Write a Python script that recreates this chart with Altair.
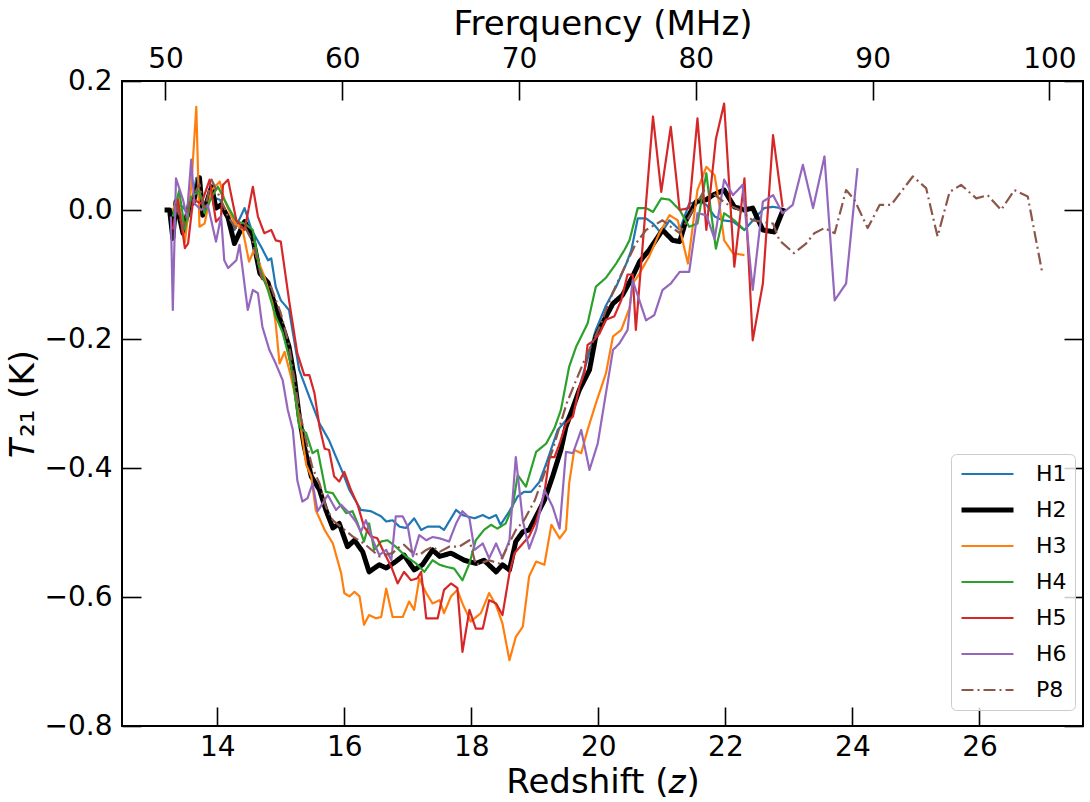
import altair as alt
import pandas as pd

SERIES = ["H1", "H2", "H3", "H4", "H5", "H6", "P8"]
COLORS = ["#1f77b4", "#000000", "#ff7f0e", "#2ca02c", "#d62728", "#9467bd", "#8c564b"]
WIDTHS = [2.2, 5.0, 2.2, 2.2, 2.2, 2.2, 2.2]
DASHES = [[1, 0], [1, 0], [1, 0], [1, 0], [1, 0], [1, 0], [12, 4, 2, 4]]

Z_TICKS = [14, 16, 18, 20, 22, 24, 26]
F_TICKS = [50, 60, 70, 80, 90, 100]
T_TICKS = [-0.8, -0.6, -0.4, -0.2, 0.0, 0.2]

z_h1 = [13.25, 13.30, 13.35, 13.46, 13.56, 13.67, 13.77, 13.91, 14.04, 14.27, 14.43, 14.54, 14.69, 14.80,
        14.85, 14.92, 15.00, 15.13, 15.29, 15.45, 15.61, 15.76, 15.87, 15.97, 16.08, 16.26, 16.42, 16.58,
        16.66, 16.76, 16.87, 16.97, 17.10, 17.21, 17.31, 17.50, 17.57, 17.76, 17.86, 18.05, 18.18, 18.28,
        18.39, 18.46, 18.60, 18.73, 18.83, 18.94, 19.07, 19.18, 19.36, 19.49, 19.62, 19.75, 19.96, 20.12,
        20.28, 20.44, 20.52, 20.62, 20.75, 20.86, 20.99, 21.12, 21.28, 21.43, 21.59, 21.70, 21.83, 21.96,
        22.12, 22.30, 22.46, 22.61, 22.75, 22.87]
t_h1 = [0.0, -0.02, 0.01, 0.005, -0.01, 0.05, 0.0, 0.02, 0.016, -0.031, 0.003, -0.031, -0.057, -0.078,
        -0.075, -0.119, -0.14, -0.155, -0.248, -0.29, -0.331, -0.357, -0.383, -0.406, -0.434, -0.465, -0.467, -0.475,
        -0.483, -0.481, -0.491, -0.493, -0.478, -0.496, -0.491, -0.491, -0.496, -0.465, -0.473, -0.478, -0.473, -0.478,
        -0.473, -0.488, -0.467, -0.444, -0.437, -0.437, -0.422, -0.393, -0.341, -0.326, -0.30, -0.258, -0.186, -0.148,
        -0.119, -0.083, -0.062, -0.013, -0.013, -0.021, -0.036, -0.016, -0.031, 0.01, 0.013, 0.008, -0.01, -0.016,
        -0.018, -0.031, -0.013, 0.003, 0.005, 0.003]

z_h2 = [13.17, 13.25, 13.30, 13.35, 13.46, 13.56, 13.62, 13.72, 13.77, 13.91, 13.98, 14.06, 14.17, 14.27,
        14.43, 14.56, 14.67, 14.80, 14.90, 15.03, 15.13, 15.21, 15.29, 15.37, 15.48, 15.61, 15.71, 15.82,
        15.92, 16.05, 16.16, 16.29, 16.39, 16.55, 16.66, 16.81, 16.94, 17.10, 17.23, 17.39, 17.50, 17.68,
        17.89, 18.07, 18.20, 18.39, 18.49, 18.60, 18.70, 18.81, 18.91, 19.02, 19.15, 19.28, 19.41, 19.49,
        19.70, 19.86, 19.96, 20.12, 20.23, 20.38, 20.54, 20.65, 20.80, 21.01, 21.17, 21.28, 21.38, 21.54,
        21.70, 21.80, 21.98, 22.14, 22.30, 22.43, 22.59, 22.77, 22.92]
t_h2 = [0.0, 0.0, -0.044, 0.013, -0.036, 0.008, 0.011, 0.05, -0.008, 0.036, 0.003, 0.008, -0.012, -0.052,
        -0.018, -0.044, -0.098, -0.113, -0.145, -0.181, -0.212, -0.258, -0.32, -0.367, -0.413, -0.434, -0.465, -0.493,
        -0.486, -0.522, -0.512, -0.53, -0.561, -0.55, -0.555, -0.545, -0.535, -0.558, -0.55, -0.527, -0.537, -0.532,
        -0.543, -0.548, -0.543, -0.561, -0.55, -0.558, -0.514, -0.499, -0.496, -0.475, -0.45, -0.413, -0.372, -0.336,
        -0.279, -0.248, -0.196, -0.165, -0.145, -0.132, -0.103, -0.08, -0.062, -0.031, -0.047, -0.049, -0.016, 0.013,
        0.016, 0.023, 0.031, 0.005, 0.0, 0.003, -0.031, -0.034, 0.003]

z_h3 = [13.30, 13.38, 13.49, 13.59, 13.67, 13.72, 13.80, 13.91, 14.04, 14.11, 14.27, 14.40, 14.50, 14.58,
        14.74, 14.87, 14.92, 14.98, 15.06, 15.16, 15.24, 15.29, 15.40, 15.48, 15.55, 15.69, 15.82, 15.95,
        16.00, 16.08, 16.16, 16.24, 16.31, 16.39, 16.50, 16.58, 16.66, 16.76, 16.92, 17.02, 17.10, 17.18,
        17.29, 17.39, 17.50, 17.57, 17.68, 17.78, 17.86, 17.99, 18.15, 18.28, 18.39, 18.49, 18.60, 18.70,
        18.81, 18.91, 19.02, 19.15, 19.26, 19.39, 19.49, 19.54, 19.62, 19.73, 19.83, 19.96, 20.12, 20.23,
        20.36, 20.49, 20.54, 20.62, 20.80, 20.96, 21.12, 21.25, 21.41, 21.56, 21.70, 21.83, 21.91, 21.98,
        22.12, 22.30]
t_h3 = [0.0, 0.02, -0.05, 0.036, 0.16, -0.026, -0.021, 0.031, 0.044, 0.016, -0.02, -0.031, -0.08, -0.062,
        -0.103, -0.145, -0.176, -0.238, -0.22, -0.258, -0.295, -0.32, -0.395, -0.413, -0.465, -0.496, -0.517, -0.563,
        -0.594, -0.599, -0.592, -0.599, -0.643, -0.628, -0.633, -0.631, -0.587, -0.631, -0.631, -0.607, -0.62, -0.571,
        -0.594, -0.61, -0.605, -0.625, -0.599, -0.589, -0.61, -0.638, -0.625, -0.594, -0.613, -0.641, -0.698, -0.662,
        -0.646, -0.568, -0.545, -0.55, -0.488, -0.509, -0.496, -0.424, -0.372, -0.377, -0.341, -0.30, -0.253, -0.196,
        -0.186, -0.152, -0.114, -0.103, -0.072, -0.036, -0.008, -0.016, -0.083, 0.031, 0.067, 0.054, 0.005, -0.047,
        -0.067, -0.07]

z_h4 = [13.30, 13.40, 13.49, 13.59, 13.72, 13.80, 13.91, 14.01, 14.17, 14.30, 14.43, 14.56, 14.66, 14.80,
        14.92, 15.03, 15.16, 15.29, 15.40, 15.50, 15.58, 15.71, 15.82, 15.92, 16.03, 16.13, 16.21, 16.31,
        16.39, 16.47, 16.58, 16.68, 16.81, 16.97, 17.13, 17.26, 17.39, 17.50, 17.60, 17.73, 17.86, 17.97,
        18.07, 18.20, 18.31, 18.41, 18.54, 18.65, 18.73, 18.86, 19.02, 19.18, 19.31, 19.41, 19.54, 19.65,
        19.83, 19.96, 20.12, 20.28, 20.41, 20.49, 20.62, 20.75, 20.86, 20.99, 21.12, 21.28, 21.43, 21.56,
        21.70, 21.77, 21.85, 21.98, 22.14, 22.30]
t_h4 = [-0.01, 0.03, -0.03, 0.02, 0.03, -0.005, 0.02, 0.036, 0.005, -0.018, -0.021, -0.031, -0.088, -0.125,
        -0.165, -0.19, -0.24, -0.336, -0.346, -0.377, -0.372, -0.437, -0.439, -0.455, -0.47, -0.467, -0.486, -0.514,
        -0.486, -0.527, -0.514, -0.512, -0.522, -0.537, -0.548, -0.561, -0.543, -0.55, -0.553, -0.556, -0.574, -0.548,
        -0.512, -0.496, -0.488, -0.494, -0.486, -0.46, -0.411, -0.429, -0.375, -0.362, -0.338, -0.31, -0.243, -0.212,
        -0.176, -0.119, -0.105, -0.083, -0.062, -0.047, 0.003, 0.003, -0.003, 0.018, 0.016, 0.0, -0.026, -0.021,
        0.057, 0.0, -0.06, -0.005, -0.016, -0.031]

z_h5 = [13.30, 13.38, 13.49, 13.54, 13.62, 13.75, 13.88, 13.98, 14.06, 14.09, 14.17, 14.30, 14.43, 14.56,
        14.64, 14.74, 14.85, 14.92, 15.00, 15.13, 15.26, 15.37, 15.45, 15.53, 15.61, 15.69, 15.76, 15.84,
        15.92, 16.00, 16.10, 16.21, 16.31, 16.42, 16.52, 16.63, 16.74, 16.84, 16.94, 17.05, 17.15, 17.21,
        17.29, 17.47, 17.57, 17.68, 17.78, 17.86, 17.97, 18.07, 18.18, 18.28, 18.39, 18.49, 18.60, 18.68,
        18.81, 18.91, 19.02, 19.15, 19.23, 19.31, 19.39, 19.49, 19.60, 19.70, 19.78, 19.83, 19.91, 20.02,
        20.12, 20.25, 20.36, 20.46, 20.54, 20.59, 20.86, 20.99, 21.14, 21.28, 21.43, 21.56, 21.70, 21.85,
        21.98, 22.14, 22.30, 22.43, 22.59, 22.75, 22.90]
t_h5 = [-0.03, 0.016, -0.059, -0.052, 0.016, 0.01, 0.047, -0.018, -0.01, 0.039, 0.047, -0.016, -0.031, 0.036,
        -0.01, -0.036, -0.031, -0.047, -0.049, -0.14, -0.222, -0.256, -0.256, -0.284, -0.336, -0.37, -0.372, -0.413,
        -0.421, -0.406, -0.433, -0.457, -0.491, -0.506, -0.509, -0.532, -0.553, -0.579, -0.561, -0.574, -0.571, -0.561,
        -0.633, -0.633, -0.589, -0.579, -0.586, -0.685, -0.62, -0.649, -0.649, -0.605, -0.61, -0.628, -0.563, -0.532,
        -0.517, -0.506, -0.483, -0.439, -0.383, -0.383, -0.362, -0.331, -0.32, -0.274, -0.253, -0.209, -0.204, -0.191,
        -0.17, -0.165, -0.14, -0.10, -0.10, -0.186, 0.145, 0.028, 0.129, 0.0, 0.003, 0.142, -0.031, 0.11,
        0.165, -0.088, 0.049, -0.202, -0.114, 0.116, 0.005]

z_h6 = [13.27, 13.30, 13.35, 13.46, 13.52, 13.59, 13.64, 13.75, 13.85, 13.98, 14.06, 14.11, 14.17, 14.30,
        14.35, 14.48, 14.56, 14.64, 14.71, 14.82, 14.92, 15.03, 15.11, 15.19, 15.26, 15.34, 15.42, 15.50,
        15.58, 15.74, 15.87, 15.95, 16.08, 16.18, 16.26, 16.34, 16.45, 16.55, 16.66, 16.74, 16.81, 16.92,
        17.00, 17.08, 17.18, 17.29, 17.39, 17.50, 17.65, 17.76, 17.86, 17.97, 18.05, 18.18, 18.28, 18.39,
        18.49, 18.60, 18.70, 18.81, 18.91, 19.02, 19.15, 19.28, 19.39, 19.49, 19.60, 19.73, 19.86, 19.99,
        20.23, 20.33, 20.46, 20.54, 20.75, 20.88, 21.01, 21.14, 21.28, 21.43, 21.56, 21.70, 21.83, 21.98,
        22.12, 22.27, 22.43, 22.59, 22.75, 22.90, 23.06, 23.22, 23.38, 23.56, 23.72, 23.90, 24.08]
t_h6 = [-0.01, -0.155, 0.049, 0.016, -0.01, 0.078, 0.01, 0.0, 0.008, -0.049, -0.01, -0.078, -0.09, -0.078,
        -0.054, -0.155, -0.124, -0.129, -0.181, -0.217, -0.238, -0.264, -0.31, -0.341, -0.419, -0.452, -0.447, -0.424,
        -0.467, -0.442, -0.465, -0.457, -0.47, -0.483, -0.499, -0.481, -0.512, -0.535, -0.527, -0.543, -0.475, -0.475,
        -0.491, -0.537, -0.504, -0.512, -0.507, -0.509, -0.514, -0.486, -0.467, -0.478, -0.527, -0.517, -0.54, -0.517,
        -0.54, -0.512, -0.383, -0.481, -0.525, -0.496, -0.434, -0.46, -0.494, -0.375, -0.377, -0.341, -0.403, -0.362,
        -0.217, -0.207, -0.186, -0.109, -0.171, -0.163, -0.124, -0.114, -0.096, -0.096, -0.005, -0.008, -0.045, 0.047,
        0.023, 0.039, -0.124, 0.013, 0.023, -0.005, 0.008, 0.07, 0.003, 0.083, -0.14, -0.114, 0.065]

z_p8 = [13.35, 13.46, 13.56, 13.72, 13.80, 13.91, 14.04, 14.17, 14.30, 14.43, 14.56, 14.71, 14.85, 15.00,
        15.13, 15.29, 15.45, 15.50, 15.61, 15.71, 15.82, 16.13, 16.31, 16.55, 16.76, 16.87, 16.94, 17.08,
        17.18, 17.29, 17.39, 17.50, 17.65, 17.81, 17.97, 18.07, 18.28, 18.44, 18.57, 18.70, 18.83, 19.00,
        19.28, 19.50, 19.75, 20.02, 20.23, 20.44, 20.59, 20.75, 21.01, 21.14, 21.28, 21.49, 21.67, 21.80,
        22.01, 22.22, 22.43, 22.75, 22.85, 23.08, 23.27, 23.40, 23.56, 23.72, 23.90, 24.03, 24.24, 24.43,
        24.61, 24.95, 25.16, 25.34, 25.53, 25.71, 25.95, 26.13, 26.34, 26.55, 26.76, 26.99]
t_p8 = [0.01, -0.03, 0.01, 0.04, 0.0, 0.047, 0.02, -0.01, -0.03, -0.025, -0.05, -0.11, -0.12, -0.16,
        -0.21, -0.31, -0.38, -0.40, -0.424, -0.46, -0.481, -0.506, -0.517, -0.537, -0.532, -0.522, -0.519, -0.532,
        -0.535, -0.527, -0.522, -0.53, -0.522, -0.522, -0.512, -0.55, -0.543, -0.548, -0.522, -0.496, -0.481, -0.45,
        -0.372, -0.30, -0.24, -0.181, -0.127, -0.083, -0.052, -0.031, -0.016, -0.026, -0.036, 0.0, 0.031, 0.026,
        0.01, 0.0, -0.016, -0.021, -0.047, -0.067, -0.052, -0.036, -0.028, -0.036, 0.031, 0.016, -0.028, 0.008,
        0.008, 0.052, 0.034, -0.041, 0.028, 0.039, 0.018, 0.023, 0.0, 0.031, 0.021, -0.098]

ZS = [z_h1, z_h2, z_h3, z_h4, z_h5, z_h6, z_p8]
TS = [t_h1, t_h2, t_h3, t_h4, t_h5, t_h6, t_p8]

rows = []
for name, zs, ts in zip(SERIES, ZS, TS):
    for i, (zv, tv) in enumerate(zip(zs, ts)):
        rows.append({"series": name, "z": zv, "T": tv, "i": i})
df = pd.DataFrame(rows)

axes_df = pd.DataFrame({"f": F_TICKS, "T": T_TICKS})

FONT = "DejaVu Sans"
TICK = 19

leg = alt.Legend(
    orient="none", legendX=829, legendY=373,
    symbolType="stroke", symbolSize=2704, clipHeight=24, rowPadding=12,
    padding=8, labelOffset=20, labelFontSize=22, labelFont=FONT, labelColor="black",
    strokeColor="#cccccc", fillColor="rgba(255,255,255,0.8)", cornerRadius=5,
)

y_scale = alt.Scale(domain=[-0.8, 0.2], nice=False, zero=False)

lines = alt.Chart(df).mark_line(strokeJoin="round").encode(
    x=alt.X("z:Q", scale=alt.Scale(domain=[12.5, 27.63], nice=False, zero=False),
            axis=alt.Axis(orient="bottom", values=Z_TICKS, format="d", title="Redshift (𝑧)",
                          offset=-TICK, tickSize=TICK, labelPadding=7, titlePadding=4,
                          domain=False, grid=False)),
    y=alt.Y("T:Q", scale=y_scale,
            axis=alt.Axis(orient="left", values=T_TICKS, format=".1f", title="𝑇₂₁ (K)",
                          offset=-TICK, tickSize=TICK, labelPadding=10, titlePadding=4,
                          domain=False, grid=False)),
    color=alt.Color("series:N", scale=alt.Scale(domain=SERIES, range=COLORS), title=None, legend=leg),
    strokeWidth=alt.StrokeWidth("series:N",
                                scale=alt.Scale(type="ordinal", domain=SERIES, range=WIDTHS),
                                title=None, legend=leg),
    strokeDash=alt.StrokeDash("series:N", scale=alt.Scale(domain=SERIES, range=DASHES), title=None, legend=leg),
    order="i:Q",
)

frame = alt.Chart(axes_df).mark_point(opacity=0).encode(
    x=alt.X("f:Q", scale=alt.Scale(domain=[47.54, 101.9], nice=False, zero=False),
            axis=alt.Axis(orient="top", values=F_TICKS, format="d", title="Frerquency (MHz)",
                          offset=-TICK, tickSize=TICK, labelPadding=8, titlePadding=4,
                          domain=False, grid=False)),
    y=alt.Y("T:Q", scale=y_scale,
            axis=alt.Axis(orient="right", values=T_TICKS, labels=False, title=None,
                          offset=-TICK, tickSize=TICK, domain=False, grid=False)),
)

chart = alt.layer(lines, frame).resolve_scale(x="independent").resolve_axis(
    x="independent", y="independent"
).properties(
    width=961, height=645,
    padding={"left": 122, "top": 81, "right": 7, "bottom": 76},
    autosize=alt.AutoSizeParams(type="none"),
).configure_view(
    stroke="black", strokeWidth=2
).configure_axis(
    labelFont=FONT, titleFont=FONT, labelFontSize=28, titleFontSize=34,
    titleFontWeight="normal", labelColor="black", titleColor="black",
    tickColor="black", tickWidth=1.6,
)

chart.save("out.html", embed_options={"renderer": "svg", "actions": False})
